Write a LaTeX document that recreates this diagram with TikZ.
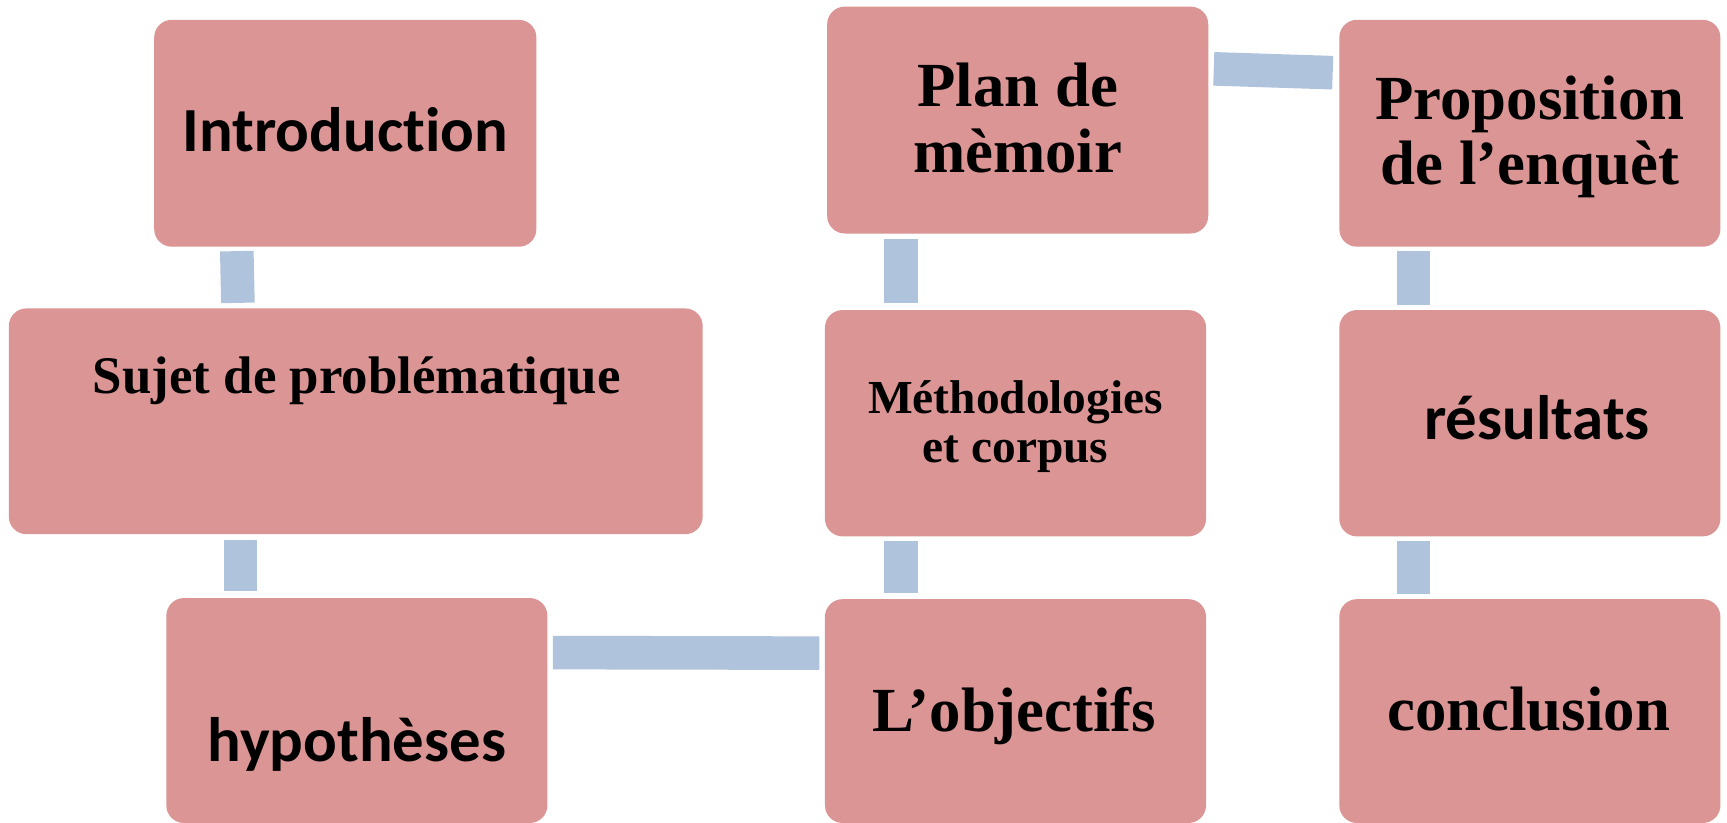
\documentclass[tikz,border=0pt]{standalone}
\usepackage{fontspec}
\setmainfont{Liberation Serif}
\newfontfamily\calfont[Ligatures=NoCommon]{Carlito}
\usetikzlibrary{calc}
\definecolor{boxfill}{RGB}{218,149,148}
\definecolor{connfill}{RGB}{176,195,221}
\tikzset{
  box/.style={draw=none, fill=boxfill, rounded corners=16pt, inner sep=0pt, outer sep=0pt, rectangle},
  conn/.style={draw=connfill, line width=30.5pt, line cap=butt},
  serif/.style={font=\bfseries\fontsize{57}{60}\selectfont, anchor=base, inner sep=0pt, align=center},
  sans/.style={font=\calfont\bfseries\fontsize{57}{60}\selectfont, anchor=base, inner sep=0pt},
}
\begin{document}
\begin{tikzpicture}[x=1pt, y=-1pt]
\useasboundingbox (0,0) rectangle (1568,747.2);
% boxes
\node[box, minimum width=347pt, minimum height=206pt] (intro) at (313.5,121) {};
\node[box, minimum width=630pt, minimum height=205pt] (sujet) at (323,382.5) {};
\node[box, minimum width=346pt, minimum height=204.2pt] (hyp) at (324,645.1) {};
\node[box, minimum width=346pt, minimum height=206pt] (plan) at (924,109) {};
\node[box, minimum width=346pt, minimum height=205.5pt] (meth) at (922,384.25) {};
\node[box, minimum width=346pt, minimum height=203.2pt] (obj) at (922,645.6) {};
\node[box, minimum width=346pt, minimum height=206pt] (prop) at (1389,121) {};
\node[box, minimum width=346pt, minimum height=205.5pt] (res) at (1389,384.25) {};
\node[box, minimum width=346pt, minimum height=203.2pt] (conc) at (1389,645.6) {};
% connectors
\draw[conn] ($(intro.south west)+(75,4)$) -- ($(sujet.north west)+(208,-5)$);
\draw[conn] ($(sujet.south west)+(210.5,5)$) -- ($(hyp.north west)+(67.5,-6)$);
\draw[conn] ($(hyp.north east)+(5,49.5)$) -- ($(obj.north west)+(-5,49)$);
\draw[conn] ($(obj.north west)+(69,-6)$) -- ($(meth.south west)+(69,4)$);
\draw[conn] ($(meth.north west)+(69,-6)$) -- ($(plan.south west)+(67,5)$);
\draw[conn] ($(plan.north east)+(5,56.5)$) -- ($(prop.north west)+(-6,48)$);
\draw[conn] ($(prop.south west)+(67.5,4)$) -- ($(res.north west)+(67.5,-5)$);
\draw[conn] ($(res.south west)+(67.5,4)$) -- ($(conc.north west)+(67.5,-5)$);
% texts
\node[sans] (tintro) at (313.5,138) {Introduction};
\node[serif] (tplan1) at (924,96.7) {Plan de};
\node[serif] (tplan2) at (924,157) {mèmoir};
\node[serif] (tprop1) at (1389,108.6) {Proposition};
\node[serif] (tprop2) at (1389,167.6) {de l’enquèt};
\node[serif, font=\bfseries\fontsize{48}{52}\selectfont] (tsujet) at (324,357) {Sujet de problématique};
\node[serif, font=\bfseries\fontsize{43}{47}\selectfont] (tmeth1) at (922,375) {Méthodologies};
\node[serif, font=\bfseries\fontsize{43}{47}\selectfont] (tmeth2) at (922,420) {et corpus};
\node[sans] (tres) at (1395.5,399) {résultats};
\node[sans] (thyp) at (324,691.5) {hypothèses};
\node[serif] (tobj) at (921,664) {L’objectifs};
\node[serif] (tconc) at (1388,663) {conclusion};
\end{tikzpicture}
\end{document}
